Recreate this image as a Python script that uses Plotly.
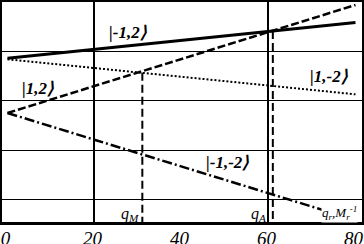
import plotly.graph_objects as go

# ---- data (q in x-units, energies in arbitrary units) ----
q_ends = [0, 80]
e_m1_p2 = [-1.134, -0.406]   # |-1,2>  solid
e_p1_m2 = [-1.154, -1.866]   # |1,-2>  dotted
e_p1_p2 = [-2.246, -0.051]   # |1,2>   dashed
e_m1_m2 = [-2.246, -4.42]    # |-1,-2> dash-dot
q_M = 31.0
q_A = 61.0
x_ticks = [0, 20, 40, 60, 80]
x_grid = [20, 60]
y_grid = [-1, -2, -3, -4]

X_RANGE = [-1.26, 81.5]
Y_RANGE = [-4.461, 0.01]


def interp(q, xs, ys):
    return ys[0] + (ys[1] - ys[0]) * (q - xs[0]) / (xs[1] - xs[0])


fig = go.Figure()

fig.add_trace(go.Scatter(x=q_ends, y=e_m1_m2, mode="lines",
                         line=dict(color="black", width=2.5, dash="10px,3px,2px,3px")))
fig.add_trace(go.Scatter(x=q_ends, y=e_p1_m2, mode="lines",
                         line=dict(color="black", width=2, dash="2px,2px")))
fig.add_trace(go.Scatter(x=q_ends, y=e_p1_p2, mode="lines",
                         line=dict(color="black", width=2.5, dash="8px,3px")))
fig.add_trace(go.Scatter(x=q_ends, y=e_m1_p2, mode="lines",
                         line=dict(color="black", width=3)))

# vertical markers at crossings
yM = interp(q_M, q_ends, e_p1_m2)
yA = interp(q_A, q_ends, e_m1_p2)
fig.add_trace(go.Scatter(x=[q_M, q_M], y=[yM, Y_RANGE[0]], mode="lines",
                         line=dict(color="black", width=2, dash="8px,4px")))
fig.add_trace(go.Scatter(x=[q_A, q_A], y=[yA, Y_RANGE[0]], mode="lines",
                         line=dict(color="black", width=2, dash="8px,4px")))

# invisible trace for the grid axis
fig.add_trace(go.Scatter(x=x_grid, y=[Y_RANGE[0]] * 2, xaxis="x2", mode="lines",
                         line=dict(width=0), hoverinfo="skip"))

lab_font = dict(family="Liberation Serif", size=17, color="black", style="italic", weight="bold")
small_font = dict(family="Liberation Serif", size=16, color="black", style="italic")

annots = [
    ("|-1,2⟩", 27.7, -0.60, lab_font, None, "center"),
    ("|1,2⟩", 7.0, -1.74, lab_font, None, "center"),
    ("|1,-2⟩", 73.9, -1.51, lab_font, None, "center"),
    ("|-1,-2⟩", 50.5, -3.26, lab_font, None, "center"),
    ("q<sub>M</sub>", 28.2, -4.30, small_font, None, "center"),
    ("q<sub>A</sub>", 57.8, -4.30, small_font, None, "center"),
    ("q<sub>r</sub>,M<sub>r</sub><sup>-1</sup>", 80.6, -4.28,
     dict(family="Liberation Serif", size=13, color="black", style="italic"), "white", "right"),
]
for text, x, y, f, bg, xa in annots:
    fig.add_annotation(x=x, y=y, text=text, showarrow=False, font=f,
                       xanchor=xa, yanchor="middle",
                       bgcolor=bg if bg else "rgba(0,0,0,0)", borderpad=0)

fig.update_layout(
    width=364, height=244,
    margin=dict(l=2, r=2, t=2, b=22, autoexpand=False),
    paper_bgcolor="white", plot_bgcolor="white",
    showlegend=False,
    xaxis=dict(range=X_RANGE, tickvals=x_ticks, ticktext=[str(v) for v in x_ticks],
               showgrid=False, zeroline=False, ticks="", automargin=False,
               ticklabelstandoff=-3, ticklabelshift=-2, ticklabeloverflow="allow",
               tickfont=dict(family="Liberation Serif", size=19, color="black", style="italic"),
               showline=True, mirror=True, linecolor="black", linewidth=2.5),
    xaxis2=dict(range=X_RANGE, overlaying="x", matches="x", tickvals=x_grid,
                showticklabels=False, showgrid=True, gridcolor="black", gridwidth=2,
                zeroline=False, ticks="", automargin=False),
    yaxis=dict(range=Y_RANGE, tickvals=y_grid, showticklabels=False, automargin=False,
               showgrid=True, gridcolor="black", gridwidth=1, zeroline=False, ticks="",
               showline=True, mirror=True, linecolor="black", linewidth=2.5),
)

fig.write_html("out.html", config={"displayModeBar": False},
               post_script="document.body.style.margin='0';document.body.style.padding='0';")
